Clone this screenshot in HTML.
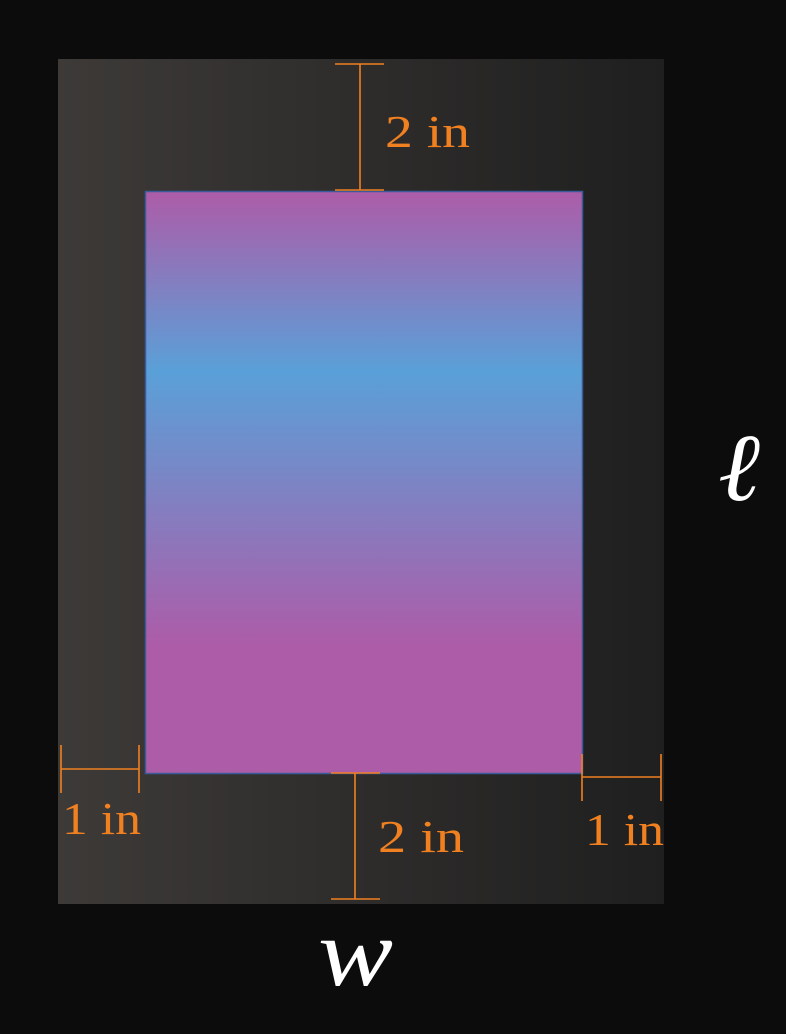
<!DOCTYPE html>
<html><head><meta charset="utf-8"><style>
html,body{margin:0;padding:0;background:#0c0c0c;}
svg{display:block}
text{font-family:"Liberation Serif",serif;}
</style></head><body>
<svg width="786" height="1034" viewBox="0 0 786 1034">
<defs>
<linearGradient id="outerG" x1="0" y1="0" x2="1" y2="0">
<stop offset="0" stop-color="#3d3a38"/><stop offset="1" stop-color="#1f1f1f"/>
</linearGradient>
<linearGradient id="innerG" x1="0" y1="0" x2="0" y2="1">
<stop offset="0" stop-color="#ad5ca8"/>
<stop offset="0.31" stop-color="#5aa0d8"/>
<stop offset="0.78" stop-color="#ad5ca8"/>
<stop offset="1" stop-color="#ad5ca8"/>
</linearGradient>
</defs>
<rect x="58" y="59" width="606" height="845" fill="url(#outerG)"/>
<rect x="145.5" y="191.5" width="437" height="582" fill="url(#innerG)" stroke="#3a5a9a" stroke-width="1.5"/>
<g stroke="#f08020" stroke-width="1.6" fill="none">
<g>
<line x1="360" y1="64" x2="360" y2="190"/><line x1="335" y1="64" x2="384" y2="64"/><line x1="335" y1="190" x2="384" y2="190"/></g>
<g>
<line x1="355" y1="773" x2="355" y2="899"/><line x1="331" y1="773" x2="380" y2="773"/><line x1="331" y1="899" x2="380" y2="899"/></g>
<g>
<line x1="61" y1="769" x2="139" y2="769"/><line x1="61" y1="745" x2="61" y2="793"/><line x1="139" y1="745" x2="139" y2="793"/></g>
<g>
<line x1="582" y1="777" x2="661" y2="777"/><line x1="582" y1="754" x2="582" y2="801"/><line x1="661" y1="754" x2="661" y2="801"/></g>
</g>
<g fill="#f08020" font-size="46">
<text x="385" y="147" textLength="85" lengthAdjust="spacingAndGlyphs">2 in</text>
<text x="378" y="852" textLength="86" lengthAdjust="spacingAndGlyphs">2 in</text>
<text x="62" y="834" textLength="79" lengthAdjust="spacingAndGlyphs">1 in</text>
<text x="585" y="845" textLength="79" lengthAdjust="spacingAndGlyphs">1 in</text>
</g>
<text x="718" y="500" fill="#ffffff" font-size="96" font-style="italic" textLength="42" lengthAdjust="spacingAndGlyphs">ℓ</text>
<text x="318" y="985" fill="#ffffff" font-size="96" font-style="italic" textLength="75" lengthAdjust="spacingAndGlyphs">w</text>
</svg>
</body></html>
